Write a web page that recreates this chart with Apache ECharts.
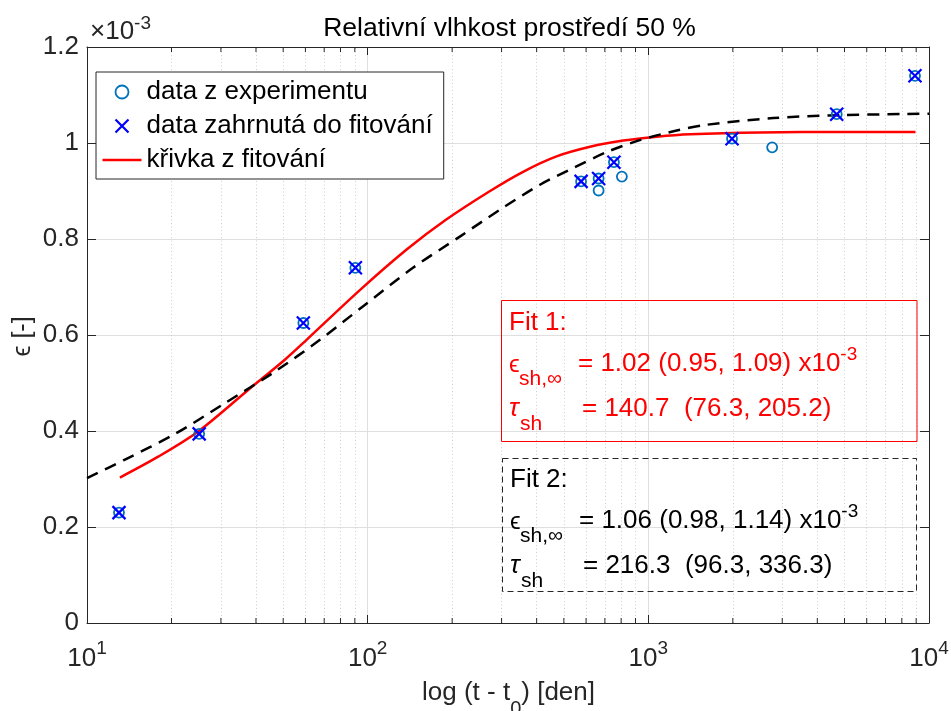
<!DOCTYPE html>
<html><head><meta charset="utf-8">
<script src="https://cdn.jsdelivr.net/npm/echarts@6/dist/echarts.min.js"></script>
<style>html,body{margin:0;padding:0;background:#fff}#c{width:951px;height:711px}</style>
</head><body><div id="c"></div>
<script>
const FONT = '"Liberation Sans", Arial, Helvetica, sans-serif';
const chartTitle = 'Relativní vlhkost prostředí 50 %';
const legendNames = ['data z experimentu', 'data zahrnutá do fitování', 'křivka z fitování'];

// experimental data (t - t0 [den], strain x1e-3)
const expT = [13.0, 25.1, 59.0, 90.4, 576, 665, 665, 754, 805, 1987, 2762, 4690, 8913];
const expE = [0.230, 0.394, 0.625, 0.740, 0.920, 0.926, 0.901, 0.960, 0.930, 1.009, 0.991, 1.060, 1.140];
// data used for fitting
const usedT = [13.0, 25.1, 59.0, 90.4, 576, 665, 754, 1987, 4690, 8913];
const usedE = [0.230, 0.394, 0.625, 0.740, 0.920, 0.926, 0.960, 1.009, 1.060, 1.140];
// fit 1 curve (red)
const fit1T = [13.1, 18.0, 24.9, 37.6, 50.8, 60.6, 94.0, 137.7, 190, 273, 358, 471, 620, 815, 1072, 1407, 2500, 5000, 8950];
const fit1E = [0.303, 0.347, 0.399, 0.486, 0.549, 0.590, 0.694, 0.778, 0.840, 0.900, 0.940, 0.972, 0.992, 1.005, 1.013, 1.018, 1.022, 1.023, 1.023];
// fit 2 curve (black dashed)
const fit2T = [10, 13.6, 20.6, 31.0, 46.8, 67.6, 96.4, 145, 213, 296, 411, 541, 710, 933, 1262, 1614, 2787, 4820, 10000];
const fit2E = [0.302, 0.340, 0.394, 0.458, 0.524, 0.590, 0.660, 0.740, 0.805, 0.861, 0.913, 0.948, 0.981, 1.006, 1.026, 1.038, 1.052, 1.058, 1.061];

const xMin = 10, xMax = 10000;
const yMin = 0, yMax = 1.2, yStep = 0.2;
const minorX = [20, 30, 40, 50, 60, 70, 80, 90, 200, 300, 400, 500, 600, 700, 800, 900, 2000, 3000, 4000, 5000, 6000, 7000, 8000, 9000];

const zip = (a, b) => a.map((v, i) => [v, b[i]]);
const AX = '#262626';
const RED = '#FF0000';

const ctx = document.createElement('canvas').getContext('2d');
function tw(s, size, style) { ctx.font = (style || 'normal') + ' ' + size + 'px ' + FONT; return ctx.measureText(s).width; }
function T(s, x, base, size, color, style) {
  return { type: 'text', x: x, y: base - 0.35 * size, silent: true, z: 50,
    style: { text: s, fill: color, fontSize: size, fontFamily: FONT, fontStyle: style || 'normal', align: 'left', verticalAlign: 'middle' } };
}

const g = [];
// axis exponent
g.push(T('×10', 90, 40.7, 26, AX));
g.push(T('-3', 90 + tw('×10', 26), 30, 19, AX));
// fit boxes
g.push({ type: 'rect', silent: true, z: 49, shape: { x: 501.5, y: 300.5, width: 415.5, height: 141 }, style: { fill: 'none', stroke: RED, lineWidth: 1 } });
g.push({ type: 'rect', silent: true, z: 49, shape: { x: 502.5, y: 458.5, width: 414, height: 133 }, style: { fill: 'none', stroke: AX, lineWidth: 1, lineDash: [6, 4] } });
function fitBlock(label, eqE, eqT, dy, dx, color) {
  g.push(T(label, 509 + dx, 331.7 + dy, 26, color));
  g.push(T('ϵ', 509 + dx, 373.3 + dy, 24, color));
  g.push(T('sh,∞', 519 + dx, 386.7 + dy, 21, color));
  g.push(T(eqE, 578 + dx, 373.3 + dy, 26, color));
  g.push(T('-3', 578 + dx + tw(eqE, 26), 361 + dy, 19, color));
  g.push(T('τ', 509 + dx, 418 + dy, 26, color, 'italic'));
  g.push(T('sh', 520 + dx, 431.7 + dy, 21, color));
  g.push(T(eqT, 582 + dx, 418 + dy, 26, color));
}
fitBlock('Fit 1:', '= 1.02 (0.95, 1.09) x10', '= 140.7  (76.3, 205.2)', 0, 0, RED);
fitBlock('Fit 2:', '= 1.06 (0.98, 1.14) x10', '= 216.3  (96.3, 336.3)', 157, 1, '#000');
// x axis name with subscript
const xl1 = 'log (t - t', xl2 = '0', xl3 = ') [den]';
const w1 = tw(xl1, 26), w2 = tw(xl2, 20), w3 = tw(xl3, 26);
const xs = 508.5 - (w1 + w2 + w3) / 2;
g.push(T(xl1, xs, 701.7, 26, AX));
g.push(T(xl2, xs + w1, 716, 20, AX));
g.push(T(xl3, xs + w1 + w2, 701.7, 26, AX));
// y axis name
g.push({ type: 'text', x: 23, y: 336.5, rotation: Math.PI / 2, silent: true, z: 50,
  style: { text: 'ϵ [-]', fill: AX, fontSize: 25, fontFamily: FONT, align: 'center', verticalAlign: 'middle' } });

const chart = echarts.init(document.getElementById('c'));
const tickStyle = { lineStyle: { color: AX, width: 1 } };
chart.setOption({
  animation: false,
  backgroundColor: '#fff',
  title: { text: chartTitle, left: 509.5, top: 15, textAlign: 'center', padding: 0,
    textStyle: { fontSize: 26.5, fontWeight: 'normal', color: '#000', fontFamily: FONT } },
  grid: { left: 87, right: 22, top: 47, bottom: 88, containLabel: false, outerBoundsMode: 'none' },
  legend: {
    orient: 'vertical', left: 96, top: 72, padding: [7, 11, 6, 4], itemGap: 8,
    itemWidth: 39, itemHeight: 13, selectedMode: false,
    backgroundColor: '#fff', borderColor: AX, borderWidth: 1, borderRadius: 0,
    textStyle: { fontSize: 26, lineHeight: 26, color: '#000', fontFamily: FONT },
    data: [
      { name: legendNames[0], icon: 'circle', itemStyle: { color: 'none', borderColor: '#0072BD', borderWidth: 1.8, opacity: 1 } },
      { name: legendNames[1], icon: 'path://M0,0L10,10M10,0L0,10', itemStyle: { color: 'none', borderColor: '#0000FF', borderWidth: 2.2, opacity: 1 } },
      { name: legendNames[2], icon: 'path://M0,0M0,5L40,5M40,10', itemStyle: { color: 'none', borderColor: RED, borderWidth: 2.5, opacity: 1 } }
    ]
  },
  xAxis: [
    { type: 'log', logBase: 10, min: xMin, max: xMax, interval: 1,
      axisLine: { show: true, onZero: false, lineStyle: { color: AX, width: 1 } },
      axisTick: Object.assign({ show: true, inside: true, length: 8 }, tickStyle),
      axisLabel: { show: true, margin: 16, showMinLabel: true, showMaxLabel: true,
        formatter: v => '{b|10}{sup|' + Math.round(Math.log10(v)) + '}',
        rich: { b: { fontSize: 26, lineHeight: 40, color: AX, fontFamily: FONT },
                sup: { fontSize: 19, lineHeight: 20, verticalAlign: 'top', color: AX, fontFamily: FONT } } },
      splitLine: { show: true, lineStyle: { color: '#DFDFDF', width: 1 } } },
    { type: 'log', logBase: 10, min: xMin, max: xMax, interval: 1, position: 'top',
      axisLine: { show: true, onZero: false, lineStyle: { color: AX, width: 1 } },
      axisTick: Object.assign({ show: true, inside: true, length: 8 }, tickStyle),
      axisLabel: { show: false }, splitLine: { show: false } }
  ],
  yAxis: [
    { type: 'value', min: yMin, max: yMax, interval: yStep,
      axisLine: { show: true, onZero: false, lineStyle: { color: AX, width: 1 } },
      axisTick: Object.assign({ show: true, inside: true, length: 9 }, tickStyle),
      axisLabel: { show: true, margin: 8, fontSize: 26, color: AX, fontFamily: FONT,
        formatter: v => String(+v.toFixed(1)) },
      splitLine: { show: true, lineStyle: { color: '#DFDFDF', width: 1 } } },
    { type: 'value', min: yMin, max: yMax, interval: yStep, position: 'right',
      axisLine: { show: true, onZero: false, lineStyle: { color: AX, width: 1 } },
      axisTick: Object.assign({ show: true, inside: true, length: 9 }, tickStyle),
      axisLabel: { show: false }, splitLine: { show: false } }
  ],
  graphic: { elements: g },
  series: [
    { name: 'minor grid', type: 'line', data: [], silent: true,
      markLine: { silent: true, z: 1, symbol: ['none', 'none'], label: { show: false }, animation: false,
        lineStyle: { color: '#CFCFCF', width: 1, type: [1, 2.5] }, emphasis: { disabled: true },
        data: minorX.map(v => ({ xAxis: v })) } },
    { name: 'minor ticks bottom', type: 'scatter', silent: true, z: 3,
      data: minorX.map(v => [v, yMin]), symbol: 'rect', symbolSize: [1, 5], symbolOffset: [0, -2.5],
      itemStyle: { color: AX, opacity: 1 } },
    { name: 'minor ticks top', type: 'scatter', silent: true, z: 3,
      data: minorX.map(v => [v, yMax]), symbol: 'rect', symbolSize: [1, 5], symbolOffset: [0, 2.5],
      itemStyle: { color: AX, opacity: 1 } },
    { name: legendNames[2], type: 'line', data: zip(fit1T, fit1E), symbol: 'none', showSymbol: false,
      smooth: 0.3, lineStyle: { color: RED, width: 2.5 }, itemStyle: { color: RED }, z: 4 },
    { name: 'Fit 2', type: 'line', data: zip(fit2T, fit2E), symbol: 'none', showSymbol: false,
      smooth: 0.3, lineStyle: { color: '#000', width: 2.5, type: [12, 8] }, itemStyle: { color: '#000' }, z: 5 },
    { name: legendNames[0], type: 'scatter', data: zip(expT, expE), symbol: 'circle', symbolSize: 10,
      itemStyle: { color: 'rgba(0,0,0,0)', borderColor: '#0072BD', borderWidth: 1.8, opacity: 1 }, z: 6 },
    { name: legendNames[1], type: 'scatter', data: zip(usedT, usedE), symbol: 'path://M0,0L10,10M10,0L0,10', symbolSize: 13,
      itemStyle: { color: 'none', borderColor: '#0000FF', borderWidth: 2.2, opacity: 1 }, z: 7 }
  ]
});
</script>
</body></html>
